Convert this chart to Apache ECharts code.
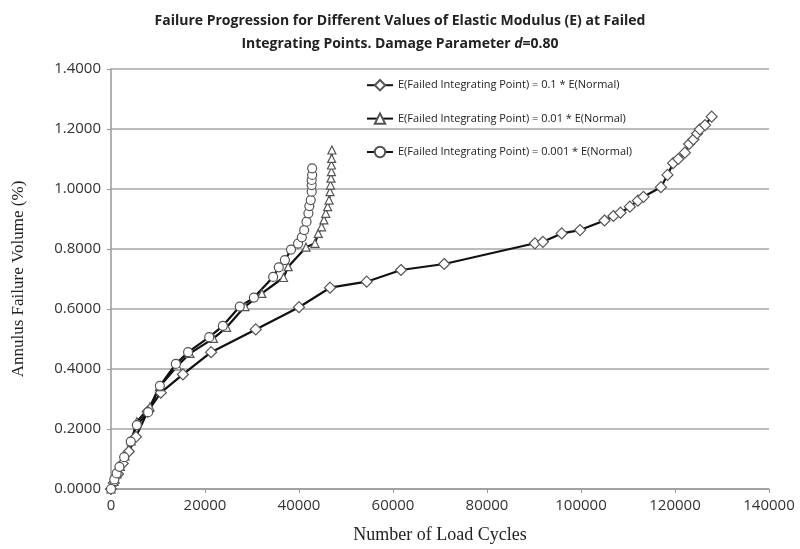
<!DOCTYPE html>
<html>
<head>
<meta charset="utf-8">
<script src="https://cdn.jsdelivr.net/npm/echarts@6/dist/echarts.min.js"></script>
<style>html,body{margin:0;padding:0;background:#fff}#c{width:800px;height:549px}</style>
</head>
<body>
<div id="c"></div>
<script>
const seriesNames = [
  'E(Failed Integrating Point) = 0.1 * E(Normal)',
  'E(Failed Integrating Point) = 0.01 * E(Normal)',
  'E(Failed Integrating Point) = 0.001 * E(Normal)'
];
const diamondX = [0, 600, 1500, 2500, 3800, 5300, 7800, 10600, 15300, 21300, 30800, 40000, 46600, 54400, 61700, 70900, 90200, 91900, 95900, 99800, 105000, 106900, 108400, 110400, 112100, 113300, 117000, 118400, 119600, 120700, 122100, 123000, 123900, 124700, 125300, 126400, 127800];
const diamondY = [0, 0.02, 0.05, 0.085, 0.125, 0.174, 0.258, 0.321, 0.382, 0.456, 0.532, 0.606, 0.671, 0.691, 0.730, 0.750, 0.819, 0.824, 0.852, 0.863, 0.895, 0.910, 0.921, 0.941, 0.961, 0.974, 1.006, 1.047, 1.086, 1.100, 1.121, 1.150, 1.165, 1.185, 1.199, 1.213, 1.241];
const triangleX = [0, 600, 1300, 2000, 3000, 4300, 5500, 8300, 10300, 14100, 16800, 21800, 24600, 28500, 32100, 36700, 37700, 41500, 43400, 44100, 44800, 45300, 45700, 46100, 46400, 46600, 46700, 46800, 46900, 46900, 46950, 47000];
const triangleY = [0, 0.025, 0.05, 0.075, 0.11, 0.16, 0.224, 0.274, 0.341, 0.41, 0.452, 0.502, 0.539, 0.608, 0.652, 0.705, 0.741, 0.806, 0.819, 0.852, 0.874, 0.897, 0.919, 0.941, 0.963, 0.991, 1.013, 1.036, 1.058, 1.080, 1.102, 1.13];
const circleX = [0, 700, 1200, 1800, 2800, 4200, 5500, 7900, 10400, 13800, 16400, 20900, 23800, 27400, 30400, 34500, 35700, 37000, 38300, 39800, 40600, 41100, 41600, 42000, 42200, 42500, 42700, 42700, 42700, 42800, 42800];
const circleY = [0, 0.032, 0.052, 0.074, 0.106, 0.158, 0.213, 0.256, 0.344, 0.417, 0.456, 0.506, 0.544, 0.608, 0.638, 0.707, 0.739, 0.763, 0.798, 0.818, 0.839, 0.863, 0.891, 0.919, 0.943, 0.963, 0.991, 1.013, 1.03, 1.047, 1.069];

function pairs(xs, ys) { return xs.map((x, i) => [x, ys[i]]); }

const chart = echarts.init(document.getElementById('c'));
function mk(name, xs, ys, sym, size) {
  return {
    name: name, type: 'line', data: pairs(xs, ys),
    symbol: sym, symbolSize: size, showSymbol: true,
    lineStyle: { color: '#111', width: 2.2 },
    itemStyle: { color: '#fff', borderColor: '#555', borderWidth: 1.2 },
    emphasis: { disabled: true }
  };
}
chart.setOption({
  animation: false,
  backgroundColor: '#fff',
  title: {
    text: 'Failure Progression for Different Values of Elastic Modulus (E) at Failed\nIntegrating Points. Damage Parameter {i|d}=0.80',
    left: 'center', top: 5,
    textStyle: {
      fontFamily: 'Open Sans', fontWeight: 'bold', fontSize: 14, color: '#222', lineHeight: 23,
      rich: { i: { fontStyle: 'italic', fontWeight: 'bold', fontFamily: 'Open Sans', fontSize: 14, color: '#222' } }
    }
  },
  legend: {
    orient: 'vertical', left: 361, top: 74, itemGap: 21, itemWidth: 26, itemHeight: 13,
    textStyle: { fontFamily: 'Open Sans', fontSize: 11, color: '#222' },
    data: seriesNames
  },
  grid: { left: 111, right: 31, top: 69, bottom: 60 },
  xAxis: {
    type: 'value', min: 0, max: 140000, interval: 20000,
    name: 'Number of Load Cycles', nameLocation: 'middle', nameGap: 37,
    nameTextStyle: { fontFamily: 'Liberation Serif', fontSize: 18, color: '#222' },
    axisLine: { show: true, lineStyle: { color: '#999', width: 1.5 } },
    axisTick: { show: true, length: 4, lineStyle: { color: '#999' } },
    axisLabel: { fontFamily: 'Open Sans', fontSize: 15, color: '#333', margin: 9, formatter: v => String(v) },
    splitLine: { show: false }
  },
  yAxis: {
    type: 'value', min: 0, max: 1.4, interval: 0.2,
    name: 'Annulus Failure Volume (%)', nameLocation: 'middle', nameGap: 84, nameRotate: 90,
    nameTextStyle: { fontFamily: 'Liberation Serif', fontSize: 17, color: '#222' },
    axisLine: { show: true, lineStyle: { color: '#999', width: 1.5 } },
    axisTick: { show: true, length: 4, lineStyle: { color: '#999' } },
    axisLabel: { fontFamily: 'Open Sans', fontSize: 15, color: '#333', margin: 10, formatter: v => v.toFixed(4) },
    splitLine: { show: true, lineStyle: { color: '#a6a6a6', width: 1.5 } }
  },
  series: [
    mk(seriesNames[0], diamondX, diamondY, 'diamond', 11),
    mk(seriesNames[1], triangleX, triangleY, 'triangle', 8),
    mk(seriesNames[2], circleX, circleY, 'circle', 9)
  ]
});
</script>
</body>
</html>
